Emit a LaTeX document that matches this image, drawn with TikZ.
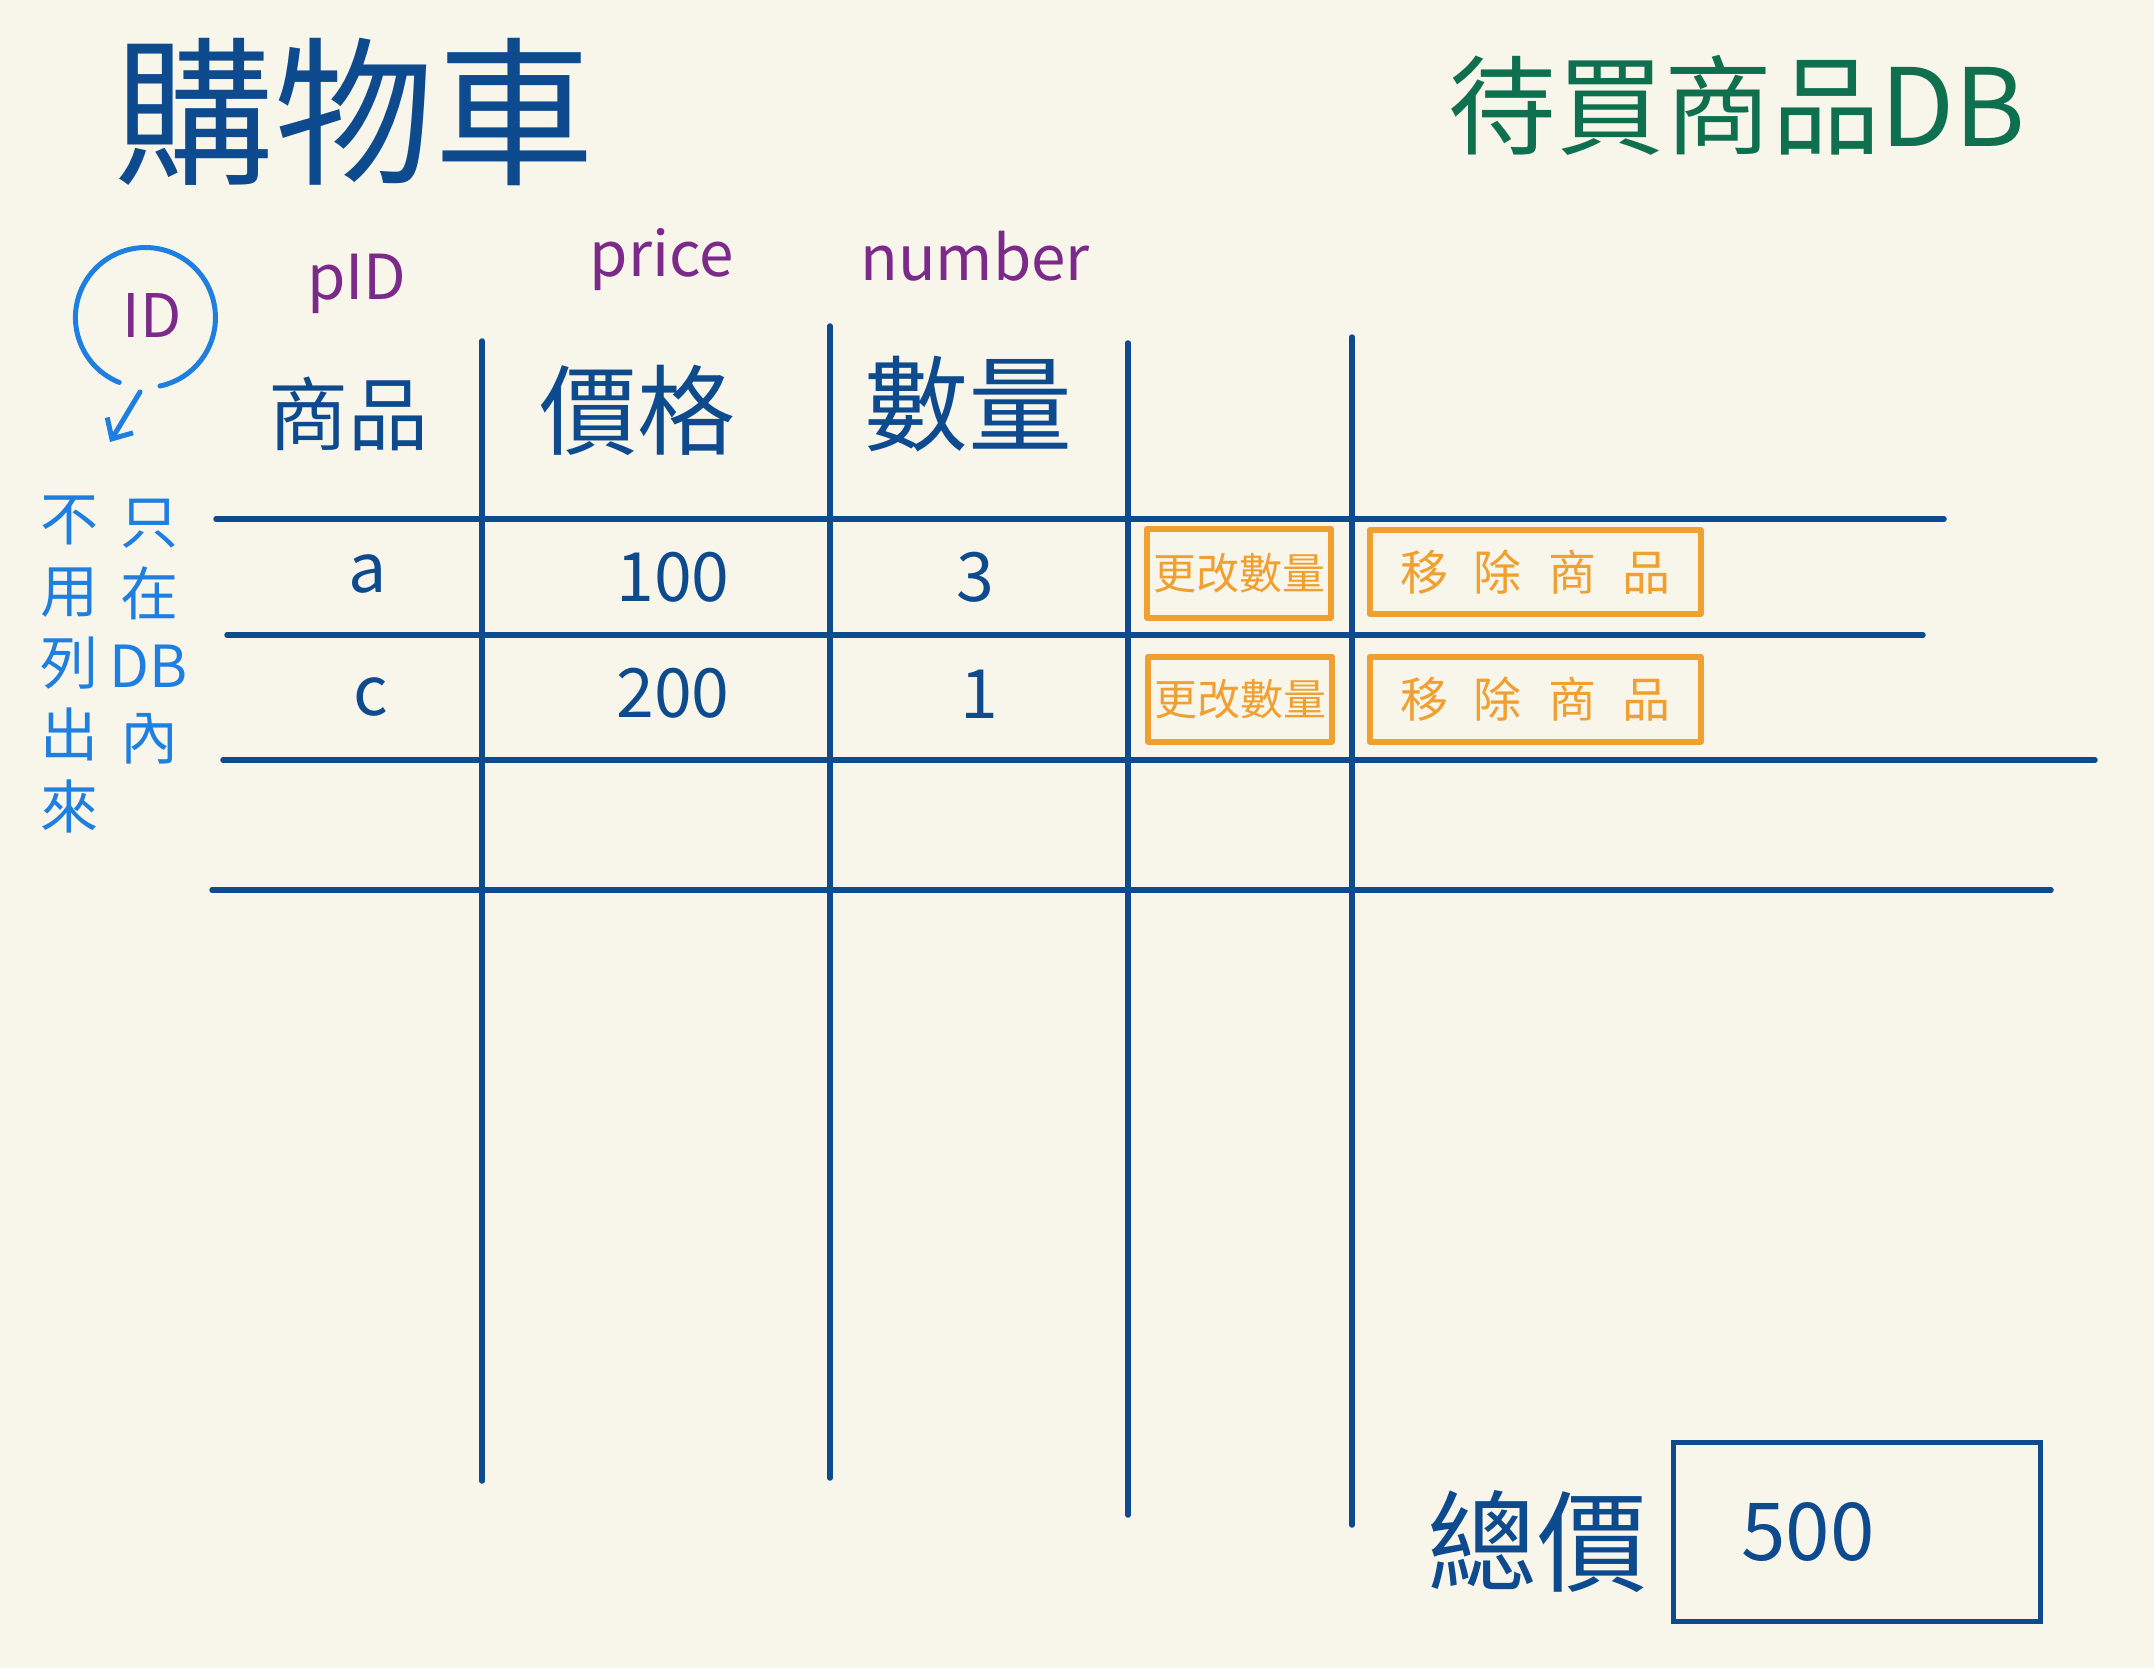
\documentclass[tikz,border=0pt]{standalone}
\usepackage{fontspec}
\setmainfont{Noto Sans}
\newfontfamily\cjk{Noto Sans CJK TC}
\usetikzlibrary{arrows.meta}
\definecolor{bgc}{HTML}{F8F6EB}
\definecolor{inkblue}{HTML}{0D4A8E}
\definecolor{inkgreen}{HTML}{0F7050}
\definecolor{inkpurple}{HTML}{7B2A8A}
\definecolor{inkorange}{HTML}{F0A030}
\definecolor{inklight}{HTML}{1E7FE0}
\newcommand{\fs}[1]{\fontsize{#1}{#1}\selectfont}
\tikzset{
  grid line/.style={draw=inkblue, line width=5.5pt, line cap=round},
  title text/.style={text=inkblue, font=\cjk\fs{160}, inner sep=0pt},
  db text/.style={text=inkgreen, font=\cjk\fs{108}, inner sep=0pt},
  head en/.style={text=inkpurple, font=\cjk\fs{62}, inner sep=0pt},
  head cn/.style={text=inkblue, font=\cjk\fs{92}, inner sep=0pt},
  cell text/.style={text=inkblue, font=\cjk\fs{68}, inner sep=0pt},
  btn/.style={draw=inkorange, line width=6pt, text=inkorange, inner sep=0pt, line join=round},
  note text/.style={text=inklight, font=\cjk\fs{58}, inner sep=0pt, align=center},
}
\begin{document}
\begin{tikzpicture}[x=1pt,y=-1pt]
\fill[bgc] (0,0) rectangle (2154,1668);
\useasboundingbox (0,0) rectangle (2154,1668);

% titles
\node[title text] (title) at (354,112) {購物車};
\node[db text] (dbtitle) at (1737,105) {待買商品DB};

% column headers
\node[head en] (hpid) at (357,284) {pID};
\node[head en] (hprice) at (662,260) {price};
\node[head en] (hnum) at (975,256) {number};
\node[head cn, font=\cjk\fs{80}] (hprod) at (348,414) {商品};
\node[head cn, font=\cjk\fs{98}] (hpr) at (637,410) {價格};
\node[head cn, font=\cjk\fs{104}] (hqty) at (968,404) {數量};

% grid
\draw[grid line] (482,341) -- (482,1481);
\draw[grid line] (830,326) -- (830,1478);
\draw[grid line] (1128,343) -- (1128,1515);
\draw[grid line] (1352,337) -- (1352,1525);
\draw[grid line] (216,519) -- (1944,519);
\draw[grid line] (227,635) -- (1923,635);
\draw[grid line] (223,760) -- (2095,760);
\draw[grid line] (212,890) -- (2051,890);

% row data
\node[cell text] (ra) at (368,574) {a};
\node[cell text] (rap) at (673,577) {100};
\node[cell text] (raq) at (975,577) {3};
\node[cell text] (rc) at (371,697) {c};
\node[cell text] (rcp) at (673,693) {200};
\node[cell text] (rcq) at (979,694) {1};

% buttons
\node[btn, minimum width=184pt, minimum height=89pt, font=\cjk\fs{43}] (b1a) at (1239,573) {更改數量};
\node[btn, minimum width=331pt, minimum height=84pt, font=\cjk\fs{48}] (b1b) at (1535,572) {移\hspace{26pt}除\hspace{26pt}商\hspace{26pt}品};
\node[btn, minimum width=184pt, minimum height=85pt, font=\cjk\fs{43}] (b2a) at (1240,699) {更改數量};
\node[btn, minimum width=331pt, minimum height=85pt, font=\cjk\fs{48}] (b2b) at (1535,699) {移\hspace{26pt}除\hspace{26pt}商\hspace{26pt}品};

% ID note
\node[text=inkpurple, font=\cjk\fs{60}, inner sep=0pt] (idt) at (152,316) {ID};
\draw[inklight, line width=5pt, line cap=round] (160,386) arc[start angle=-78, end angle=248, x radius=70pt, y radius=70pt];
\coordinate (arrS) at (140,392);
\coordinate (arrE) at (110,442);
\draw[inklight, line width=5pt, line cap=round, -{Straight Barb[length=16pt,width=30pt]}] (arrS) -- (arrE);
\node[note text] (n1) at (149,632) {只\\[14pt]在\\[14pt]DB\\[14pt]內};
\node[note text] (n2) at (69,664) {不\\[14pt]用\\[14pt]列\\[14pt]出\\[14pt]來};

% total
\node[text=inkblue, font=\cjk\fs{110}, inner sep=0pt] (total) at (1537,1542) {總價};
\node[draw=inkblue, line width=5pt, minimum width=367pt, minimum height=179pt, inner sep=0pt] (tbox) at (1857,1532) {};
\node[text=inkblue, font=\cjk\fs{80}, inner sep=0pt, anchor=west] (tval) at ([xshift=70pt]tbox.west) {500};
\end{tikzpicture}
\end{document}
